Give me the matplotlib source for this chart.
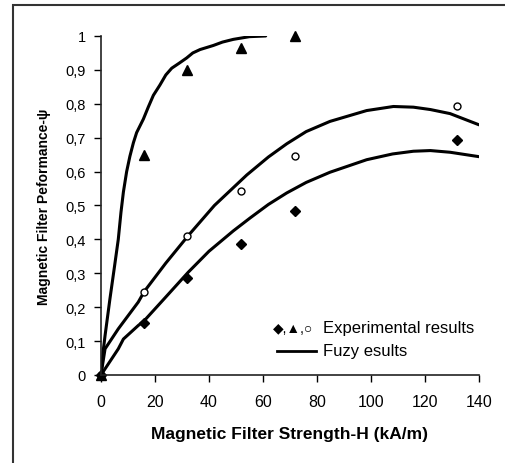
import matplotlib
matplotlib.use('Agg')
import matplotlib.pyplot as plt
from matplotlib.patches import Rectangle

plt.rcParams['font.family'] = ['Liberation Sans', 'DejaVu Sans']

# experimental points
h_exp = [0, 16, 32, 52, 72, 132]
psi_tri = [0, 0.65, 0.90, 0.965, 1.0]
psi_circ = [0, 0.245, 0.41, 0.543, 0.645, 0.793]
psi_diam = [0, 0.152, 0.286, 0.385, 0.484, 0.692]

# fuzzy curves
h_fz1 = [0, 0.8, 1.5, 3.3, 5, 6.4, 7.4, 8.3, 9.5, 10.7, 12, 13.2, 15.7, 17.5, 19.4, 21.8, 24, 26.2,
         29, 31.7, 34, 36.7, 41.6, 45, 49, 55, 61]
psi_fz1 = [0, 0.07, 0.116, 0.224, 0.32, 0.40, 0.48, 0.54, 0.60, 0.645, 0.685, 0.715, 0.755, 0.79,
           0.825, 0.855, 0.885, 0.905, 0.92, 0.935, 0.95, 0.96, 0.972, 0.982, 0.99, 0.998, 1.0]
h_fz2 = [0, 1.5, 6.4, 13.8, 16, 24, 32.3, 42, 54, 62, 68.8, 76, 84.8, 98.4, 108.3, 115.7, 122, 129.3, 140]
psi_fz2 = [0, 0.077, 0.136, 0.215, 0.246, 0.33, 0.411, 0.50, 0.59, 0.643, 0.682, 0.718, 0.748, 0.78,
           0.792, 0.79, 0.783, 0.771, 0.738]
h_fz3 = [0, 6.4, 8.3, 13.8, 16, 24, 32.3, 40, 49, 55.2, 62, 68.8, 76, 84.8, 98.4, 108, 115.7, 122, 129.3, 140]
psi_fz3 = [0, 0.077, 0.106, 0.146, 0.16, 0.23, 0.303, 0.365, 0.425, 0.463, 0.503, 0.537, 0.568, 0.598, 0.635,
           0.652, 0.66, 0.662, 0.657, 0.644]

xticks = [0, 20, 40, 60, 80, 100, 120, 140]
yticks = [0, 0.1, 0.2, 0.3, 0.4, 0.5, 0.6, 0.7, 0.8, 0.9, 1.0]
ylabels = ['0', '0,1', '0,2', '0,3', '0,4', '0,5', '0,6', '0,7', '0,8', '0,9', '1']

fig = plt.figure(figsize=(5.06, 4.64), dpi=100)
fig.patches.append(Rectangle((13 / 506, -0.1), 1.2, 1 - 6 / 464 + 0.1, transform=fig.transFigure,
                             fill=False, edgecolor='#333333', linewidth=1.5))
ax = fig.add_axes([0.1996, 0.1897, 0.747, 0.7306])

for hx, py in [(h_fz1, psi_fz1), (h_fz2, psi_fz2), (h_fz3, psi_fz3)]:
    ax.plot(hx, py, color='black', lw=2.2, solid_joinstyle='round', solid_capstyle='round')

ax.plot(h_exp[:5], psi_tri, '^', color='black', ms=7, ls='none', clip_on=False)
ax.plot(h_exp, psi_circ, 'o', mfc='white', mec='black', ms=5, mew=1, ls='none', clip_on=False)
ax.plot(h_exp, psi_diam, 'D', color='black', ms=5, ls='none', clip_on=False)

ax.set_xlim(0, 140)
ax.set_ylim(0, 1)
ax.set_xticks(xticks)
ax.set_yticks(yticks)
ax.set_yticklabels(ylabels)
ax.tick_params(axis='x', labelsize=11.5, length=5, width=1, direction='out', pad=9)
ax.tick_params(axis='y', labelsize=10.5, length=5, width=1, direction='out', pad=6)
for s in ['top', 'right']:
    ax.spines[s].set_visible(False)
for s in ['left', 'bottom']:
    ax.spines[s].set_linewidth(1.2)
    ax.spines[s].set_color('#222222')

ax.set_xlabel('Magnetic Filter Strength-H (kA/m)', fontsize=12.5, fontweight='bold', labelpad=12)
ax.set_ylabel('Magnetic Filter Peformance-\u03c8', fontsize=10, fontweight='bold', labelpad=10)

# legend drawn by hand in figure coords
fig.text(273 / 506, 1 - 329 / 464, '\u25c6,\u25b2,\u25cb', fontsize=10, va='center', ha='left')
fig.text(323 / 506, 1 - 329 / 464, 'Experimental results', fontsize=12, va='center', ha='left')
fig.lines.append(plt.Line2D([277 / 506, 316 / 506], [1 - 352 / 464, 1 - 352 / 464], color='black', lw=2,
                            transform=fig.transFigure))
fig.text(323 / 506, 1 - 352 / 464, 'Fuzy esults', fontsize=12, va='center', ha='left')

fig.savefig('out.png', dpi=100)
